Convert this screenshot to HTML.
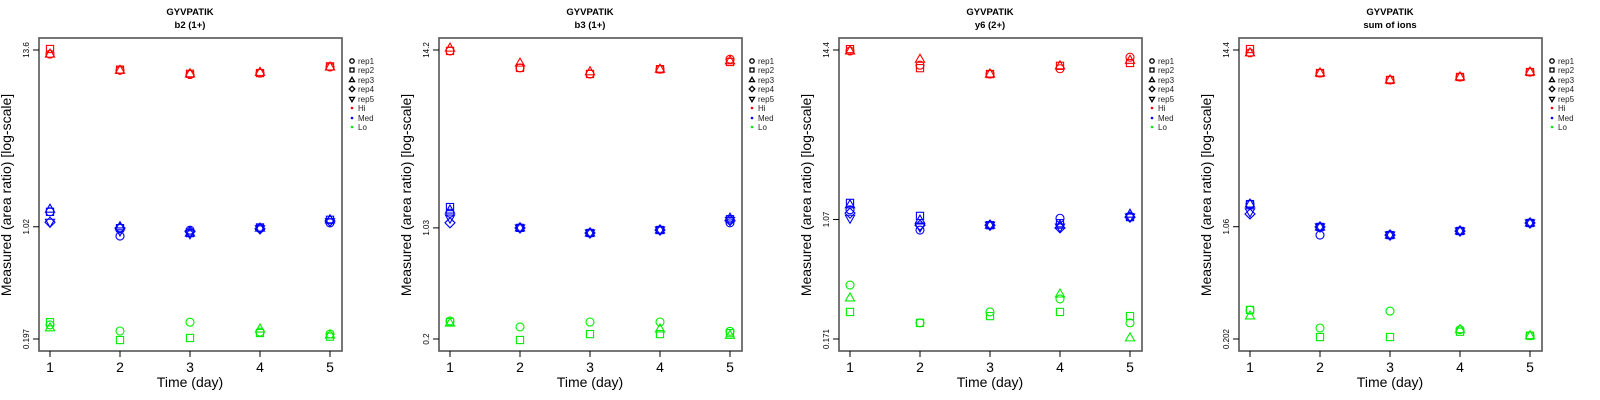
<!DOCTYPE html>
<html><head><meta charset="utf-8"><style>
body{margin:0;background:#fff;width:1600px;height:400px;overflow:hidden}
svg{display:block;font-family:"Liberation Sans",sans-serif}
</style></head><body>
<svg id="chart" width="1600" height="400" viewBox="0 0 1600 400"></svg>
<script>
const days=[1,2,3,4,5];
const panelTitles=["b2 (1+)","b3 (1+)","y6 (2+)","sum of ions"];
const yTickLabels=[["13.6","1.02","0.197"],["14.2","1.03","0.2"],["14.4","1.07","0.171"],["14.4","1.06","0.202"]];
const yTickValues=[[13.6,1.02,0.197],[14.2,1.03,0.2],[14.4,1.07,0.171],[14.4,1.06,0.202]];
const groups=["Hi","Med","Lo"];
const groupColors=["#ff0000","#0000ff","#00ee00"];
const repNames=["rep1","rep2","rep3","rep4","rep5"];
// values[panel][group][day] = reps
const p1Hi=[[12.8,13.8,12.8],[10.1,10.2,10.1],[9.5,9.6,9.6],[9.7,9.7,9.8],[10.6,10.7,10.6]];
const p1Med=[[1.27,1.27,1.32,1.09,1.09],[0.89,1.00,1.02,1.00,0.96],[0.97,0.93,0.93,0.95,0.92],[1.00,1.01,1.00,0.99,0.99],[1.08,1.13,1.13,1.11,1.10]];
const p1Lo=[[0.242,0.252,0.232],[0.2215,0.194,null],[0.252,0.200,null],[0.218,0.215,0.228],[0.212,0.204,0.209]];
const p2Hi=[[14.0,14.0,14.6],[10.9,10.9,11.7],[9.97,9.97,10.3],[10.7,10.7,10.7],[12.4,11.9,12.1]];
const p2Med=[[1.28,1.40,1.34,1.11,1.19],[1.03,1.03,1.03,1.03,1.03],[0.955,0.955,0.955,0.955,0.955],[0.998,0.998,0.998,0.998,0.998],[1.11,1.17,1.19,1.15,1.15]];
const p2Lo=[[0.261,0.257,0.253],[0.239,0.197,null],[0.257,0.215,null],[0.257,0.215,0.232],[0.224,0.218,0.211]];
const p3Hi=[[14.18,14.6,14.18],[11.4,10.9,12.5],[9.96,9.96,9.96],[10.8,11.3,11.3],[12.9,11.8,12.3]];
const p3Med=[[1.24,1.38,1.34,1.18,1.09],[0.91,1.13,1.06,0.98,0.953],[0.98,0.98,0.98,0.98,0.98],[1.09,1.01,0.98,0.94,0.953],[1.11,1.11,1.16,1.11,1.11]];
const p3Lo=[[0.391,0.259,0.321],[0.219,0.219,null],[0.259,0.243,null],[0.316,0.259,0.341],[0.219,0.243,0.174]];
const p4Hi=[[13.8,14.6,13.8],[10.25,10.25,10.25],[9.25,9.25,9.25],[9.67,9.67,9.67],[10.4,10.4,10.4]];
const p4Med=[[1.48,1.48,1.48,1.28,1.32],[0.937,1.056,1.056,1.056,1.056],[0.937,0.937,0.937,0.937,0.937],[0.995,0.995,0.995,0.995,0.995],[1.12,1.12,1.12,1.12,1.12]];
const p4Lo=[[0.31,0.31,0.284],[0.2376,0.208,null],[0.305,0.208,null],[0.232,0.225,0.232],[0.212,0.212,0.212]];
const values=[[p1Hi,p1Med,p1Lo],[p2Hi,p2Med,p2Lo],[p3Hi,p3Med,p3Lo],[p4Hi,p4Med,p4Lo]];

const NS="http://www.w3.org/2000/svg";
const svg=document.getElementById('chart');
function mk(tag,attrs,parent,txt){const e=document.createElementNS(NS,tag);for(const k in attrs)e.setAttribute(k,attrs[k]);if(txt!==undefined)e.textContent=txt;(parent||svg).appendChild(e);return e;}
function sym(g,rep,x,y,col,s){
  let e;
  if(rep===0){e=mk('circle',{cx:x,cy:y,r:4*s},g);}
  else if(rep===1){e=mk('rect',{x:x-3.6*s,y:y-3.6*s,width:7.2*s,height:7.2*s},g);}
  else if(rep===2){e=mk('polygon',{points:`${x},${y-5*s} ${x-4.6*s},${y+3*s} ${x+4.6*s},${y+3*s}`},g);}
  else if(rep===3){e=mk('polygon',{points:`${x},${y-5*s} ${x+5*s},${y} ${x},${y+5*s} ${x-5*s},${y}`},g);}
  else {e=mk('polygon',{points:`${x},${y+5*s} ${x-4.6*s},${y-3*s} ${x+4.6*s},${y-3*s}`},g);}
  e.setAttribute('fill','none');e.setAttribute('stroke',col);e.setAttribute('stroke-width',s<1?1.3:1.1);
  return e;
}
for(let p=0;p<4;p++){
  const ox=p*400;
  const g=mk('g',{transform:`translate(${ox},0)`});
  
  
  const L=39,R=342,T=38,B=351;
  const xs=d=>50+(d-1)*70;
  const top=Math.log(yTickValues[p][0]),bot=Math.log(yTickValues[p][2]);
  const ys=v=>50+(top-Math.log(v))/(top-bot)*289;
  const t1=mk('text',{x:190,y:15,'text-anchor':'middle','font-size':'9.5','font-weight':'bold'},g,"GYVPATIK");
  
  const t2=mk('text',{x:190,y:28,'text-anchor':'middle','font-size':'9.5','font-weight':'bold'},g,panelTitles[p]);
  
  const box=mk('rect',{x:L,y:T,width:R-L,height:B-T,fill:'none',stroke:'#555','stroke-width':1.6},g);
  
  days.forEach(d=>{
    mk('line',{x1:xs(d),x2:xs(d),y1:B,y2:B+6,stroke:'#000','stroke-width':1},g);
    const tl=mk('text',{x:xs(d),y:372,'text-anchor':'middle','font-size':'14'},g,String(d));
    
  });
  yTickValues[p].forEach((v,i)=>{
    const y=ys(v);
    mk('line',{x1:L-6,x2:L,y1:y,y2:y,stroke:'#000','stroke-width':1},g);
    const tl=mk('text',{x:0,y:0,'text-anchor':'middle','font-size':'8',transform:`translate(29,${y}) rotate(-90)`},g,yTickLabels[p][i]);
    
  });
  const xt=mk('text',{x:190,y:387,'text-anchor':'middle','font-size':'14'},g,"Time (day)");
  
  const yt=mk('text',{x:0,y:0,'text-anchor':'middle','font-size':'14',transform:'translate(11,195) rotate(-90)'},g,"Measured (area ratio) [log-scale]");
  
  const pts=mk('g',{},g);
  
  for(let gi=0;gi<3;gi++){
    for(let di=0;di<5;di++){
      const reps=values[p][gi][di];
      for(let r=reps.length-1;r>=0;r--){
        if(reps[r]==null)continue;
        const e=sym(pts,r,xs(days[di]),ys(reps[r]),groupColors[gi],1);
        
        
      }
    }
  }
  const lg=mk('g',{},g);
  
  const rowsY=[61,70,80,89,99,108,118,127];
  repNames.forEach((n,i)=>{
    sym(lg,i,352,rowsY[i],'#000',0.55);
    const t=mk('text',{x:358,y:rowsY[i]+3,'font-size':'8','fill':'#222'},lg,n);
    
  });
  groups.forEach((n,i)=>{
    mk('circle',{cx:352,cy:rowsY[5+i],r:1.3,fill:groupColors[i]},lg);
    const t=mk('text',{x:358,y:rowsY[5+i]+3,'font-size':'8','fill':'#222'},lg,n);
    
  });
}
</script>
</body></html>
